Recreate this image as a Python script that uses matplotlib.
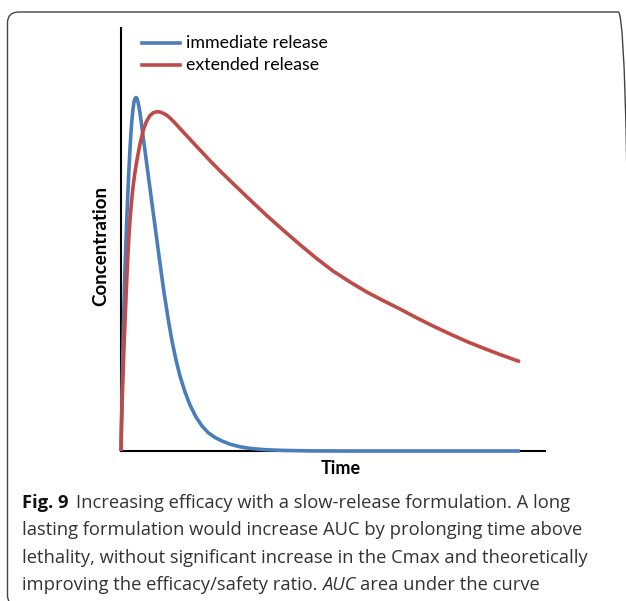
import matplotlib
matplotlib.use("Agg")
import matplotlib.pyplot as plt
from matplotlib.patches import FancyBboxPatch

# Data (arbitrary time / concentration units)
t_immediate = [0, 1, 2, 3, 4, 5, 6, 7, 8, 9, 10, 11, 12, 13, 14, 15, 16, 17, 18, 19,
               20.5, 22.3, 26, 30, 34, 38, 42.5, 47, 51, 55, 59, 64, 69, 75, 81, 87,
               94, 101, 109, 119, 129, 144, 162, 189, 229, 399]
c_immediate = [0, 56, 106, 148, 183, 211, 237, 261, 283, 302, 319, 332, 342, 349,
               352.5, 353.5, 352.5, 349, 344, 338, 327, 313, 285, 255, 225, 195, 162,
               133, 110, 91, 75, 59, 46, 34, 25, 18.5, 13.5, 10, 6.8, 4.2, 2.6, 1.3,
               0.6, 0.1, 0, 0]

t_extended = [0, 0.5, 1.2, 2, 3, 4, 5, 6, 7, 8, 9, 10.5, 12, 14, 16.5, 19, 22.3,
              25.7, 29, 32.3, 35.7, 39, 42.3, 45.7, 49, 54, 59, 65, 72, 79, 89, 100,
              112, 129, 145.7, 162, 179, 195, 212, 229, 245.7, 262, 279, 295, 312,
              329, 345.7, 362, 379, 399]
c_extended = [0, 25, 50, 75, 104, 129, 153, 177, 198, 216, 231, 249, 264, 279, 294,
              307, 321, 330, 335.5, 338.3, 339.3, 339, 337.7, 335.8, 333, 328,
              322.5, 316, 308.5, 301, 290.3, 279.2, 267.5, 251.2, 235.5, 221, 206.3,
              193, 180, 169, 159, 150.5, 142, 133.5, 125, 117, 109.5, 103, 96.5, 89.3]

series_labels = ["immediate release", "extended release"]
x_label = "Time"
y_label = "Concentration"
caption_bold = "Fig. 9"
caption_lines = [
    "Increasing efficacy with a slow-release formulation. A long",
    "lasting formulation would increase AUC by prolonging time above",
    "lethality, without significant increase in the Cmax and theoretically",
]

W, H = 626, 601
fig = plt.figure(figsize=(W / 100, H / 100), dpi=100)
fig.patch.set_facecolor("white")

# rounded frame (right and bottom edges run off the image)
frame = FancyBboxPatch((7.5 / W, 1 - 606 / H), (622 / W), (594 / H),
                       boxstyle="round,pad=0,rounding_size=0.018",
                       transform=fig.transFigure, facecolor="none",
                       edgecolor="#444444", linewidth=1.0)
fig.patches.append(frame)

ax = fig.add_axes([121 / W, 1 - 451 / H, (545 - 121) / W, (451 - 28) / H])
ax.set_xlim(0, 424)
ax.set_ylim(0, 423)
for s in ["top", "right"]:
    ax.spines[s].set_visible(False)
for s in ["left", "bottom"]:
    ax.spines[s].set_linewidth(1.5)
    ax.spines[s].set_color("black")
ax.set_xticks([])
ax.set_yticks([])

blue = "#4A7EBB"
red = "#BE4B48"
ax.plot(t_immediate, c_immediate, color=blue, lw=2.6, solid_capstyle="butt",
        solid_joinstyle="round", clip_on=False, zorder=3)
ax.plot(t_extended, c_extended, color=red, lw=2.6, solid_capstyle="butt",
        solid_joinstyle="round", clip_on=False, zorder=4)

font = "Lato"
for i, (lab, col) in enumerate(zip(series_labels, [blue, red])):
    y = 1 - (43 + 22 * i) / H
    fig.add_artist(plt.Line2D([142 / W, 180 / W], [y, y], color=col, lw=2.6,
                              transform=fig.transFigure))
    fig.text(186 / W, y, lab, fontsize=12.8, family=font, va="center", ha="left")

fig.text(341 / W, 1 - 468 / H, x_label, fontsize=13, family=font,
         fontweight="bold", ha="center", va="center")
fig.text(101 / W, 1 - 246 / H, y_label, fontsize=13.5, family=font,
         fontweight="bold", ha="center", va="center", rotation=90)

cap_font = "Open Sans"
cap_size = 13.2
y0 = 503
dy = 27.3
t1 = fig.text(22 / W, 1 - y0 / H, caption_bold, fontsize=cap_size, family=cap_font,
              fontweight="bold", va="center", ha="left", color="#111111")
fig.canvas.draw()
bb = t1.get_window_extent()
fig.text((bb.x1 + 8) / W, 1 - y0 / H, caption_lines[0], fontsize=cap_size,
         family=cap_font, va="center", ha="left", color="#333333")
for i, line in enumerate(caption_lines[1:]):
    fig.text(22 / W, 1 - (y0 + dy * (i + 1)) / H, line, fontsize=cap_size,
             family=cap_font, va="center", ha="left", color="#333333")
yl = 1 - (y0 + dy * 3) / H
tA = fig.text(22 / W, yl, "improving the efficacy/safety ratio. ", fontsize=cap_size,
              family=cap_font, va="center", ha="left", color="#333333")
fig.canvas.draw()
bA = tA.get_window_extent()
tB = fig.text(bA.x1 / W, yl, "AUC", fontsize=cap_size, family=cap_font,
              style="italic", va="center", ha="left", color="#333333")
fig.canvas.draw()
bB = tB.get_window_extent()
fig.text((bB.x1 + 4) / W, yl, "area under the curve", fontsize=cap_size,
         family=cap_font, va="center", ha="left", color="#333333")

fig.savefig("out.png", dpi=100)
